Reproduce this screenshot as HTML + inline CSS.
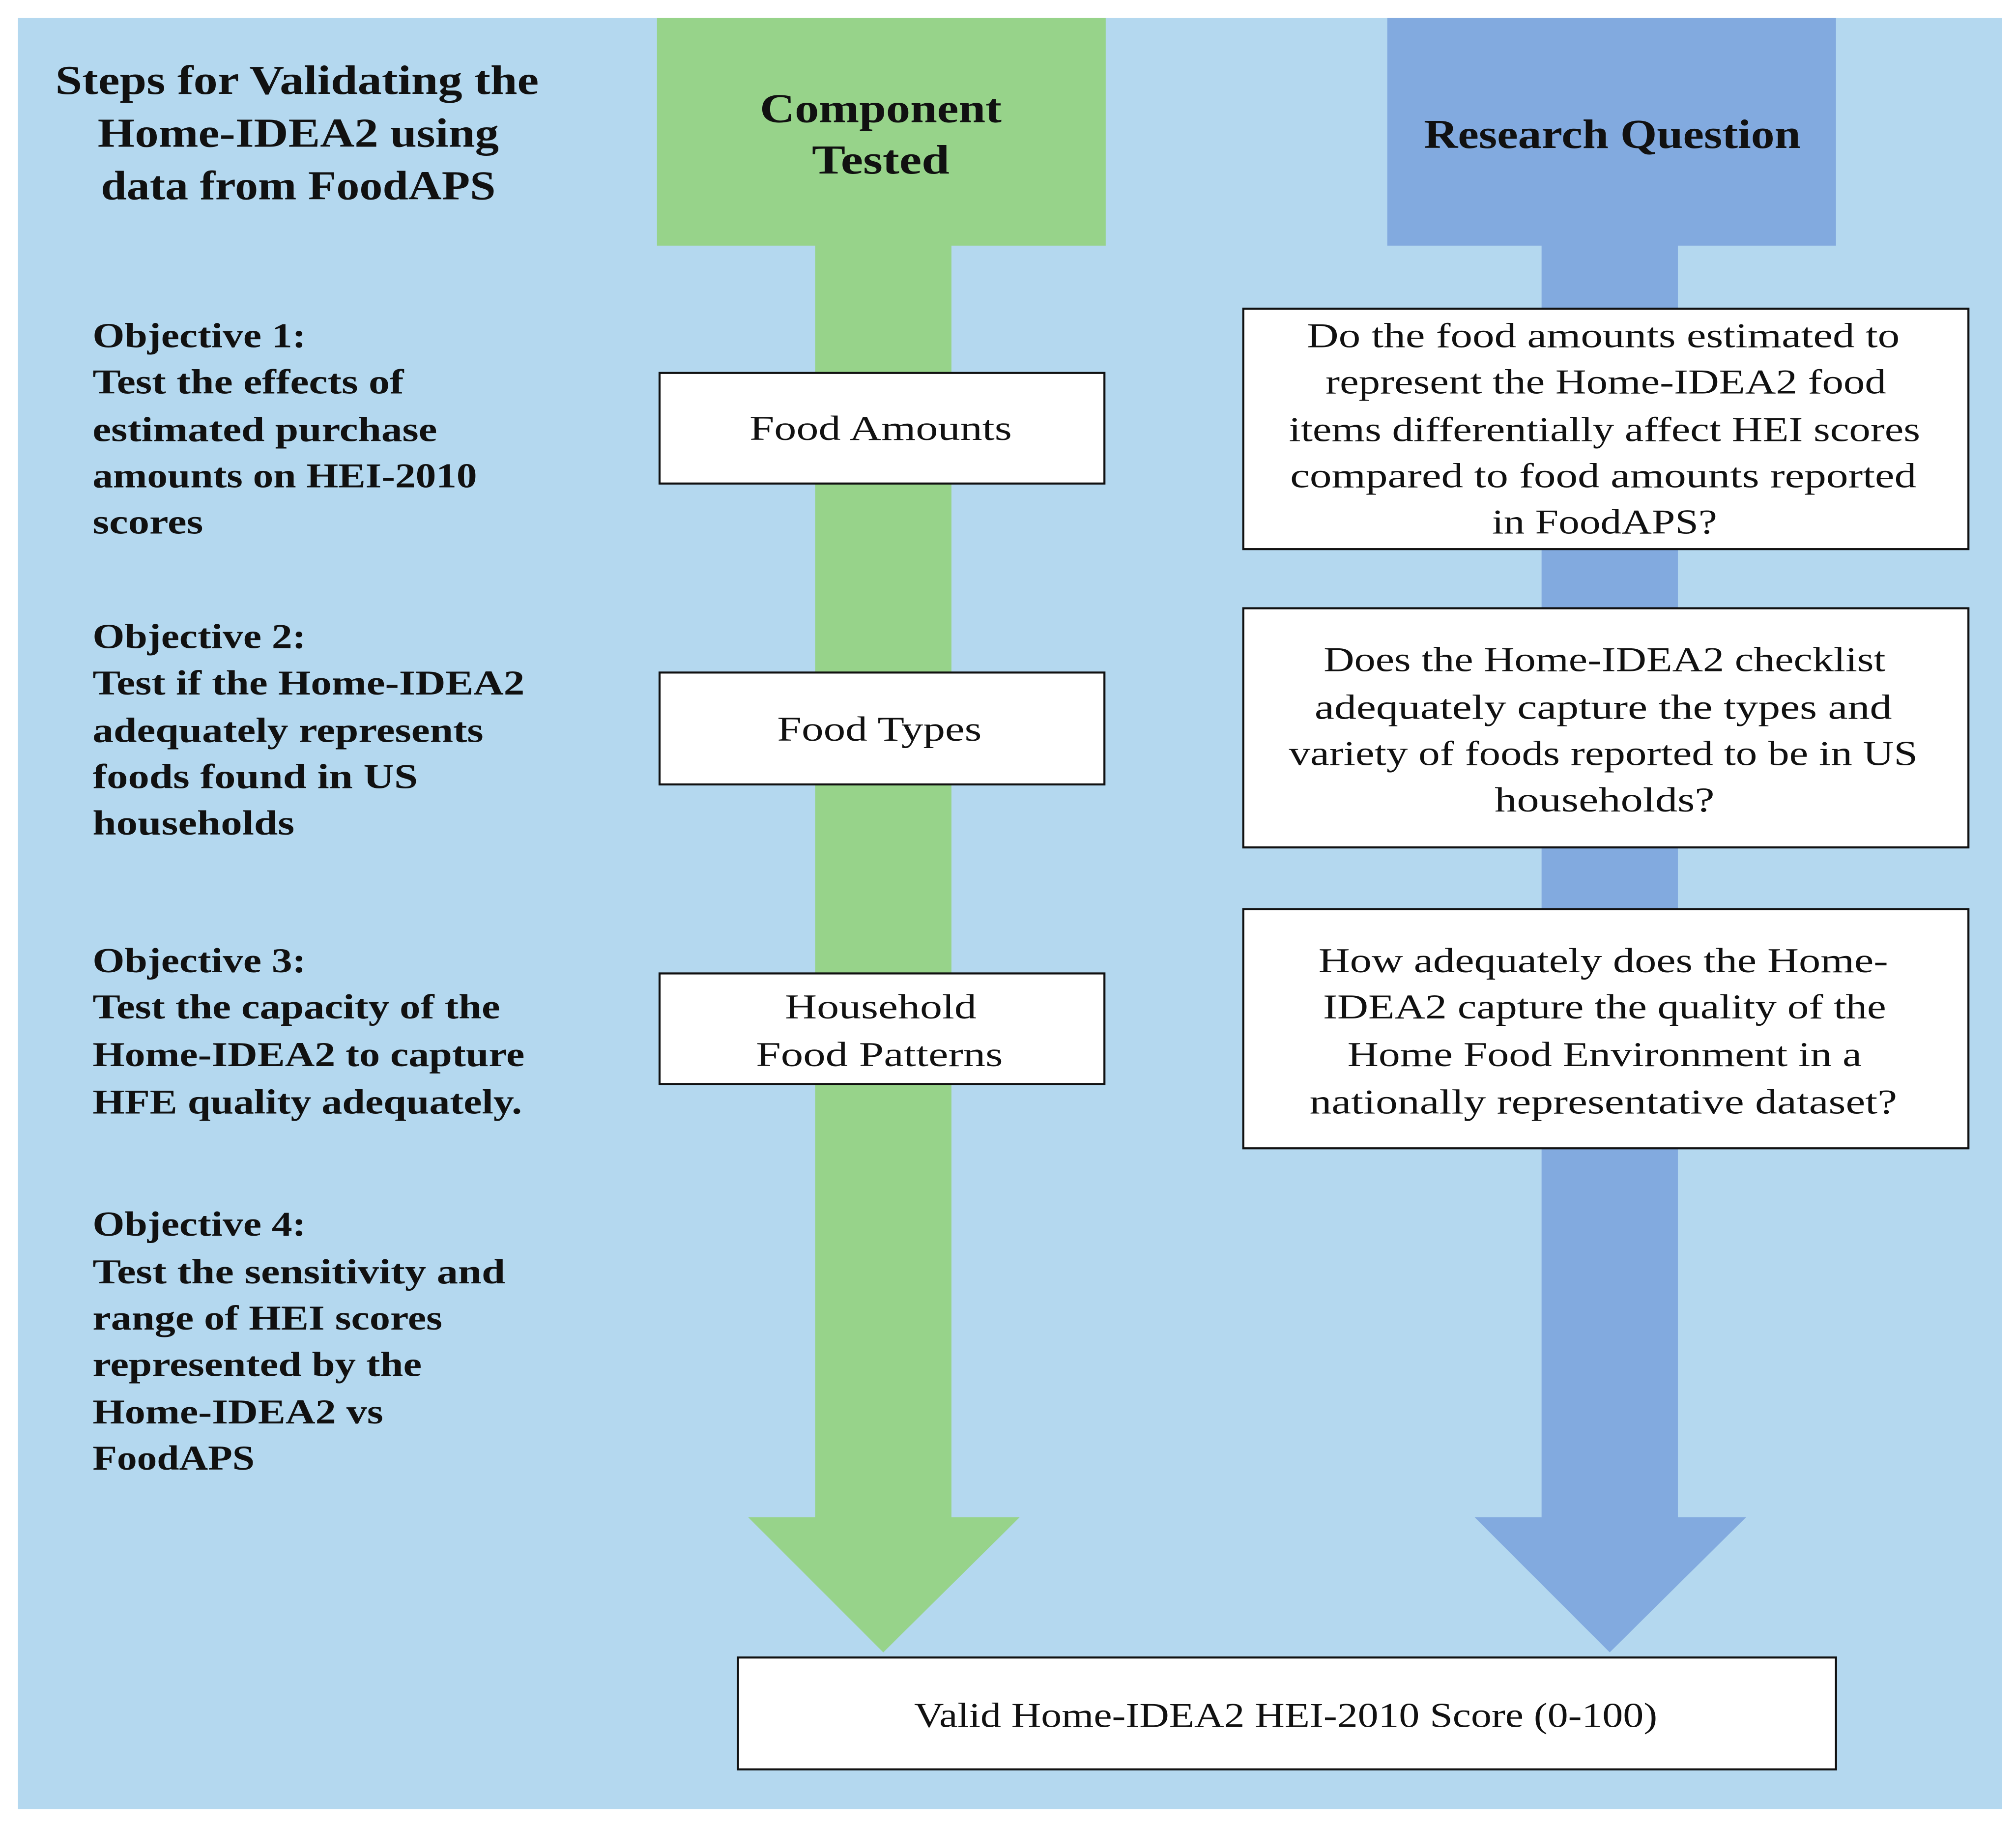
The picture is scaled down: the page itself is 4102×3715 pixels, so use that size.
<!DOCTYPE html>
<html><head><meta charset="utf-8"><style>
html,body{margin:0;padding:0;background:#fff;}
svg{display:block;}
text{font-family:"Liberation Serif",serif;fill:#111;}
.h{font-weight:bold;font-size:32px;}
.b{font-weight:bold;font-size:27px;}
.r{font-size:27px;}
</style></head><body>
<svg width="4102" height="3715" viewBox="0 0 1568 1420" xmlns="http://www.w3.org/2000/svg">
<rect x="0" y="0" width="1568" height="1420" fill="#fff"/>
<rect x="14" y="14" width="1543" height="1393" fill="#B4D8EF"/>
<!-- green column -->
<rect x="511" y="14" width="349" height="177" fill="#97D38A"/>
<rect x="634" y="190" width="106" height="991" fill="#97D38A"/>
<polygon points="582,1180 793,1180 687,1285" fill="#97D38A"/>
<!-- blue column -->
<rect x="1079" y="14" width="349" height="177" fill="#82AADF"/>
<rect x="1199" y="190" width="106" height="991" fill="#82AADF"/>
<polygon points="1147,1180 1358,1180 1252,1285" fill="#82AADF"/>
<!-- boxes -->
<g fill="#fff" stroke="#111" stroke-width="1.6">
<rect x="513" y="290" width="346" height="86"/>
<rect x="513" y="523" width="346" height="87"/>
<rect x="513" y="757" width="346" height="86"/>
<rect x="967" y="240" width="564" height="187"/>
<rect x="967" y="473" width="564" height="186"/>
<rect x="967" y="707" width="564" height="186"/>
<rect x="574" y="1289" width="854" height="87"/>
</g>
<!-- headings -->
<g class="h" text-anchor="middle">
<text x="231" y="73" textLength="376" lengthAdjust="spacingAndGlyphs">Steps for Validating the</text>
<text x="232" y="114" textLength="312" lengthAdjust="spacingAndGlyphs">Home-IDEA2 using</text>
<text x="232" y="155" textLength="307" lengthAdjust="spacingAndGlyphs">data from FoodAPS</text>
<text x="685" y="95" textLength="188" lengthAdjust="spacingAndGlyphs">Component</text>
<text x="685" y="135" textLength="107" lengthAdjust="spacingAndGlyphs">Tested</text>
<text x="1254" y="115" textLength="293" lengthAdjust="spacingAndGlyphs">Research Question</text>
</g>
<!-- objectives -->
<g class="b">
<text x="72" y="270" textLength="166" lengthAdjust="spacingAndGlyphs">Objective 1:</text>
<text x="72" y="306" textLength="242" lengthAdjust="spacingAndGlyphs">Test the effects of</text>
<text x="72" y="343" textLength="268" lengthAdjust="spacingAndGlyphs">estimated purchase</text>
<text x="72" y="379" textLength="299" lengthAdjust="spacingAndGlyphs">amounts on HEI-2010</text>
<text x="72" y="415" textLength="86" lengthAdjust="spacingAndGlyphs">scores</text>

<text x="72" y="504" textLength="166" lengthAdjust="spacingAndGlyphs">Objective 2:</text>
<text x="72" y="540" textLength="336" lengthAdjust="spacingAndGlyphs">Test if  the Home-IDEA2</text>
<text x="72" y="577" textLength="304" lengthAdjust="spacingAndGlyphs">adequately represents</text>
<text x="72" y="613" textLength="253" lengthAdjust="spacingAndGlyphs">foods found in US</text>
<text x="72" y="649" textLength="157" lengthAdjust="spacingAndGlyphs">households</text>

<text x="72" y="756" textLength="166" lengthAdjust="spacingAndGlyphs">Objective 3:</text>
<text x="72" y="792" textLength="317" lengthAdjust="spacingAndGlyphs">Test the capacity of the</text>
<text x="72" y="829" textLength="336" lengthAdjust="spacingAndGlyphs">Home-IDEA2 to capture</text>
<text x="72" y="866" textLength="334" lengthAdjust="spacingAndGlyphs">HFE quality adequately.</text>

<text x="72" y="961" textLength="166" lengthAdjust="spacingAndGlyphs">Objective 4:</text>
<text x="72" y="998" textLength="321" lengthAdjust="spacingAndGlyphs">Test the sensitivity and</text>
<text x="72" y="1034" textLength="272" lengthAdjust="spacingAndGlyphs">range of HEI scores</text>
<text x="72" y="1070" textLength="256" lengthAdjust="spacingAndGlyphs">represented by the</text>
<text x="72" y="1107" textLength="226" lengthAdjust="spacingAndGlyphs">Home-IDEA2 vs</text>
<text x="72" y="1143" textLength="126" lengthAdjust="spacingAndGlyphs">FoodAPS</text>
</g>
<!-- box text -->
<g class="r" text-anchor="middle">
<text x="685" y="342" textLength="204" lengthAdjust="spacingAndGlyphs">Food Amounts</text>
<text x="684" y="576" textLength="159" lengthAdjust="spacingAndGlyphs">Food Types</text>
<text x="685" y="792" textLength="149" lengthAdjust="spacingAndGlyphs">Household</text>
<text x="684" y="829" textLength="192" lengthAdjust="spacingAndGlyphs">Food Patterns</text>

<text x="1247" y="270" textLength="461" lengthAdjust="spacingAndGlyphs">Do the food amounts estimated to</text>
<text x="1249" y="306" textLength="436" lengthAdjust="spacingAndGlyphs">represent the Home-IDEA2 food</text>
<text x="1248" y="343" textLength="491" lengthAdjust="spacingAndGlyphs">items differentially affect HEI scores</text>
<text x="1247" y="379" textLength="487" lengthAdjust="spacingAndGlyphs">compared to food amounts reported</text>
<text x="1248" y="415" textLength="175" lengthAdjust="spacingAndGlyphs">in FoodAPS?</text>

<text x="1248" y="522" textLength="437" lengthAdjust="spacingAndGlyphs">Does the Home-IDEA2 checklist</text>
<text x="1247" y="559" textLength="449" lengthAdjust="spacingAndGlyphs">adequately capture the types and</text>
<text x="1247" y="595" textLength="489" lengthAdjust="spacingAndGlyphs">variety of foods reported to be in US</text>
<text x="1248" y="631" textLength="171" lengthAdjust="spacingAndGlyphs">households?</text>

<text x="1247" y="756" textLength="443" lengthAdjust="spacingAndGlyphs">How adequately does the Home-</text>
<text x="1248" y="792" textLength="438" lengthAdjust="spacingAndGlyphs">IDEA2 capture the quality of the</text>
<text x="1248" y="829" textLength="400" lengthAdjust="spacingAndGlyphs">Home Food Environment in a</text>
<text x="1247" y="866" textLength="457" lengthAdjust="spacingAndGlyphs">nationally representative dataset?</text>

<text x="1000" y="1343" textLength="578" lengthAdjust="spacingAndGlyphs">Valid Home-IDEA2 HEI-2010 Score (0-100)</text>
</g>
</svg>
</body></html>
